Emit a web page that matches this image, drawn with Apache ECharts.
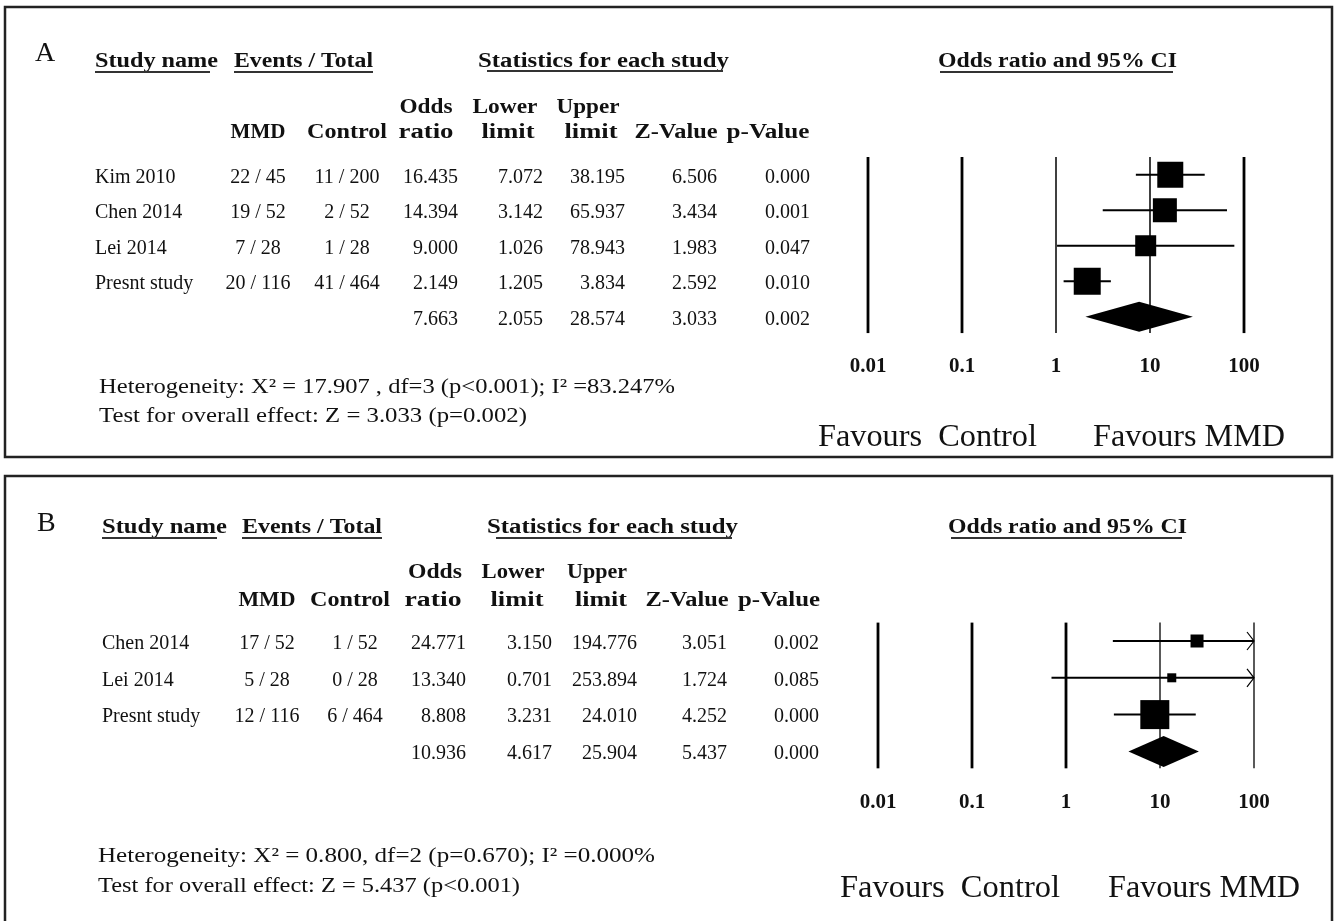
<!DOCTYPE html>
<html><head><meta charset="utf-8">
<script src="https://cdn.jsdelivr.net/npm/echarts@6/dist/echarts.min.js"></script>
<style>html,body{margin:0;padding:0;background:#fff}#c{width:1334px;height:921px}</style>
</head><body><div id="c"></div>
<script>
// ================= DATA =================
const tickValues = [0.01, 0.1, 1, 10, 100];
const tickLabels = ['0.01', '0.1', '1', '10', '100'];

// Panel A
const studiesA = ['Kim 2010', 'Chen 2014', 'Lei 2014', 'Presnt study'];
const mmdA = ['22 / 45', '19 / 52', '7 / 28', '20 / 116'];
const controlA = ['11 / 200', '2 / 52', '1 / 28', '41 / 464'];
const orA = [16.435, 14.394, 9.000, 2.149];
const lowerA = [7.072, 3.142, 1.026, 1.205];
const upperA = [38.195, 65.937, 78.943, 3.834];
const zA = [6.506, 3.434, 1.983, 2.592];
const pA = [0.000, 0.001, 0.047, 0.010];
const pooledA = [7.663, 2.055, 28.574, 3.033, 0.002]; // OR, lower, upper, Z, p
const heteroA = 'Heterogeneity: X\u00B2 = 17.907 , df=3 (p<0.001); I\u00B2 =83.247%';
const overallA = 'Test for overall effect: Z = 3.033 (p=0.002)';

// Panel B
const studiesB = ['Chen 2014', 'Lei 2014', 'Presnt study'];
const mmdB = ['17 / 52', '5 / 28', '12 / 116'];
const controlB = ['1 / 52', '0 / 28', '6 / 464'];
const orB = [24.771, 13.340, 8.808];
const lowerB = [3.150, 0.701, 3.231];
const upperB = [194.776, 253.894, 24.010];
const zB = [3.051, 1.724, 4.252];
const pB = [0.002, 0.085, 0.000];
const pooledB = [10.936, 4.617, 25.904, 5.437, 0.000];
const heteroB = 'Heterogeneity: X\u00B2 = 0.800, df=2 (p=0.670); I\u00B2 =0.000%';
const overallB = 'Test for overall effect: Z = 5.437 (p<0.001)';

// ================= LAYOUT / STYLE =================
const SERIF = '"Liberation Serif", "Times New Roman", serif';
const F_HEAD = 'bold 20px ' + SERIF;
const F_CELL = '20px ' + SERIF;
const F_FOOT = '21px ' + SERIF;
const F_FAV = '32px ' + SERIF;
const F_LET = '28px ' + SERIF;
const INK = '#111';
const TEXT_DY = 2.5;

const layoutA = {
  letter: ['A', 35, 51],
  box: [5, 7, 1327, 450],
  grid: { top: 157, height: 177.5 }, forestLeft: 868, labelMargin: 22,
  refWidths: [2.8, 2.8, 1.5, 1.5, 2.8],
  boxSizes: [26, 24, 21, 27], diamondHalf: 15,
  headers: [
    ['Study name', 156.5, 59, 123], ['Events / Total', 303.5, 59, 139],
    ['Statistics for each study', 603.5, 59, 251], ['Odds ratio and 95% CI', 1057.5, 59, 239],
    ['Odds', 426, 105, 53], ['Lower', 505, 105, 65], ['Upper', 588, 105, 63],
    ['MMD', 258, 130, 55], ['Control', 347, 130, 80], ['ratio', 426, 130, 55],
    ['limit', 508, 130, 53], ['limit', 591, 130, 53], ['Z-Value', 676, 130, 83], ['p-Value', 768, 130, 83]
  ],
  underlines: [[95, 210, 72], [234, 373, 72], [487, 723, 71], [940, 1173, 72]],
  cols: { name: 95, mmd: 258, ctrl: 347, or: 458, lo: 543, hi: 625, z: 717, p: 810 },
  foot: [[heteroA, 99, 385, 576], [overallA, 99, 414, 428]],
  fav: [['Favours  Control', 818, 435, 219], ['Favours MMD', 1093, 435, 192]]
};
const layoutB = {
  letter: ['B', 37, 521],
  box: [5, 476, 1327, 470],
  grid: { top: 622.6, height: 147.2 }, forestLeft: 878, labelMargin: 22,
  refWidths: [2.8, 2.8, 2.8, 1.3, 1.3],
  boxSizes: [13, 9, 29], diamondHalf: 15.5,
  headers: [
    ['Study name', 164.5, 525, 125], ['Events / Total', 312, 525, 140],
    ['Statistics for each study', 612.5, 525, 251], ['Odds ratio and 95% CI', 1067.5, 525, 239],
    ['Odds', 435, 570, 54], ['Lower', 513, 570, 63], ['Upper', 597, 570, 60],
    ['MMD', 267, 598, 57], ['Control', 350, 598, 80], ['ratio', 433, 598, 57],
    ['limit', 517, 598, 53], ['limit', 601, 598, 52], ['Z-Value', 687, 598, 83], ['p-Value', 779, 598, 82]
  ],
  underlines: [[102, 217, 538], [242, 382, 538], [496, 732, 538], [951, 1182, 538]],
  cols: { name: 102, mmd: 267, ctrl: 355, or: 466, lo: 552, hi: 637, z: 727, p: 819 },
  foot: [[heteroB, 98, 854, 557], [overallB, 98, 884, 422]],
  fav: [['Favours  Control', 840, 886, 220], ['Favours MMD', 1108, 886, 192]]
};

// ================= HELPERS =================
const mctx = document.createElement('canvas').getContext('2d');
function widthOf(text, font) { mctx.font = font; return mctx.measureText(text).width; }
function textEl(text, x, y, font, align, targetW) {
  const sx = targetW ? targetW / widthOf(text, font) : 1;
  return { type: 'text', x: x, y: y + TEXT_DY, scaleX: sx, silent: true,
    style: { text: text, font: font, fill: INK, textFill: INK,
      textAlign: align, align: align, textVerticalAlign: 'middle', verticalAlign: 'middle' } };
}
function tickFormatter(v) {
  let k = 0, best = 1e9;
  tickValues.forEach((t, j) => { const d = Math.abs(Math.log10(v) - Math.log10(t)); if (d < best) { best = d; k = j; } });
  return tickLabels[k];
}

function buildPanel(P, d, gi) {
  const n = d.studies.length;
  const last = n;                         // pooled row index
  const xMax = tickValues[tickValues.length - 1];
  const grids = [
    { left: P.forestLeft, top: P.grid.top, width: 376, height: P.grid.height, outerBoundsMode: 'none', containLabel: false },
    { left: 0, top: P.grid.top, width: 1334, height: P.grid.height, outerBoundsMode: 'none', containLabel: false }
  ];
  const xAxes = [
    { type: 'log', logBase: 10, gridIndex: gi, min: tickValues[0], max: xMax,
      axisLine: { show: false }, axisTick: { show: false }, splitLine: { show: false },
      axisLabel: { formatter: tickFormatter, fontFamily: SERIF, fontWeight: 'bold', fontSize: 21,
        color: INK, margin: P.labelMargin } },
    { type: 'value', gridIndex: gi + 1, min: 0, max: 1334, show: false }
  ];
  const yAxes = [
    { type: 'value', gridIndex: gi, min: -0.5, max: last + 0.5, inverse: true, show: false },
    { type: 'value', gridIndex: gi + 1, min: -0.5, max: last + 0.5, inverse: true, show: false }
  ];
  const series = [];
  series.push({
    type: 'custom', xAxisIndex: gi, yAxisIndex: gi, silent: true,
    data: tickValues.map(v => [v]), encode: { x: 0 },
    renderItem: (params, api) => {
      const v = api.value(0);
      const a = api.coord([v, -0.5]), b = api.coord([v, last + 0.46]);
      return { type: 'line', shape: { x1: a[0], y1: a[1], x2: b[0], y2: b[1] },
        style: { stroke: '#000', lineWidth: P.refWidths[params.dataIndex] } };
    }
  });
  series.push({
    type: 'custom', xAxisIndex: gi, yAxisIndex: gi, silent: true,
    data: d.studies.map((s, i) => [d.or[i], i, d.lower[i], d.upper[i]]),
    encode: { x: [0, 2, 3], y: 1 },
    renderItem: (params, api) => {
      const row = api.value(1), or = api.value(0), lo = api.value(2), hi = api.value(3);
      const c = api.coord([or, row]);
      const p0 = api.coord([lo, row]);
      const p1 = api.coord([Math.min(hi, xMax), row]);
      const s = P.boxSizes[params.dataIndex];
      const ch = [
        { type: 'line', shape: { x1: p0[0], y1: c[1], x2: p1[0], y2: c[1] }, style: { stroke: '#000', lineWidth: 2 } },
        { type: 'rect', shape: { x: c[0] - s / 2, y: c[1] - s / 2, width: s, height: s }, style: { fill: '#000' } }
      ];
      if (hi > xMax) {
        ch.push({ type: 'polyline', shape: { points: [[p1[0] - 7, c[1] - 9], [p1[0], c[1]], [p1[0] - 7, c[1] + 9]] },
          style: { stroke: '#000', lineWidth: 1.2, fill: null } });
      }
      return { type: 'group', children: ch };
    }
  });
  series.push({
    type: 'custom', xAxisIndex: gi, yAxisIndex: gi, silent: true,
    data: [[d.pooled[0], last, d.pooled[1], d.pooled[2]]],
    encode: { x: [0, 2, 3], y: 1 },
    renderItem: (params, api) => {
      const row = api.value(1);
      const c = api.coord([api.value(0), row]);
      const l = api.coord([api.value(2), row]);
      const r = api.coord([api.value(3), row]);
      const h = P.diamondHalf;
      return { type: 'polygon', shape: { points: [[l[0], c[1]], [c[0], c[1] - h], [r[0], c[1]], [c[0], c[1] + h]] },
        style: { fill: '#000' } };
    }
  });
  const rows = d.studies.map((s, i) => [
    [s, 'name', 'left'], [d.mmd[i], 'mmd', 'center'], [d.control[i], 'ctrl', 'center'],
    [d.or[i].toFixed(3), 'or', 'right'], [d.lower[i].toFixed(3), 'lo', 'right'],
    [d.upper[i].toFixed(3), 'hi', 'right'], [d.z[i].toFixed(3), 'z', 'right'], [d.p[i].toFixed(3), 'p', 'right']
  ]);
  rows.push([
    [d.pooled[0].toFixed(3), 'or', 'right'], [d.pooled[1].toFixed(3), 'lo', 'right'],
    [d.pooled[2].toFixed(3), 'hi', 'right'], [d.pooled[3].toFixed(3), 'z', 'right'], [d.pooled[4].toFixed(3), 'p', 'right']
  ]);
  series.push({
    type: 'custom', xAxisIndex: gi + 1, yAxisIndex: gi + 1, silent: true,
    data: rows.map((r, i) => [0, i]), encode: { x: 0, y: 1 },
    renderItem: (params, api) => {
      const row = api.value(1);
      const y = api.coord([0, row])[1] + TEXT_DY;
      return { type: 'group', children: rows[params.dataIndex].map(cell => {
        const x = api.coord([P.cols[cell[1]], row])[0];
        return { type: 'text', x: x, y: y,
          style: { text: cell[0], font: F_CELL, fill: INK, textFill: INK,
            textAlign: cell[2], align: cell[2], textVerticalAlign: 'middle', verticalAlign: 'middle' } };
      }) };
    }
  });
  const g = [];
  const bx = P.box;
  g.push({ type: 'rect', shape: { x: bx[0], y: bx[1], width: bx[2], height: bx[3] }, silent: true,
    style: { fill: null, stroke: '#222', lineWidth: 2.5 } });
  g.push(textEl(P.letter[0], P.letter[1], P.letter[2], F_LET, 'left'));
  P.headers.forEach(h => g.push(textEl(h[0], h[1], h[2], F_HEAD, 'center', h[3])));
  P.underlines.forEach(u => g.push({ type: 'line', silent: true, shape: { x1: u[0], y1: u[2], x2: u[1], y2: u[2] },
    style: { stroke: '#333', lineWidth: 2 } }));
  P.foot.forEach(f => g.push(textEl(f[0], f[1], f[2], F_FOOT, 'left', f[3])));
  P.fav.forEach(f => g.push(textEl(f[0], f[1], f[2], F_FAV, 'left', f[3])));
  return { grids, xAxes, yAxes, series, g };
}

const pa = buildPanel(layoutA, { studies: studiesA, mmd: mmdA, control: controlA, or: orA, lower: lowerA,
  upper: upperA, z: zA, p: pA, pooled: pooledA }, 0);
const pb = buildPanel(layoutB, { studies: studiesB, mmd: mmdB, control: controlB, or: orB, lower: lowerB,
  upper: upperB, z: zB, p: pB, pooled: pooledB }, 2);

const chart = echarts.init(document.getElementById('c'), null, { renderer: 'canvas', width: 1334, height: 921 });
chart.setOption({
  backgroundColor: '#ffffff',
  animation: false,
  grid: pa.grids.concat(pb.grids),
  xAxis: pa.xAxes.concat(pb.xAxes),
  yAxis: pa.yAxes.concat(pb.yAxes),
  series: pa.series.concat(pb.series),
  graphic: { elements: pa.g.concat(pb.g) }
});
</script>
</body></html>
